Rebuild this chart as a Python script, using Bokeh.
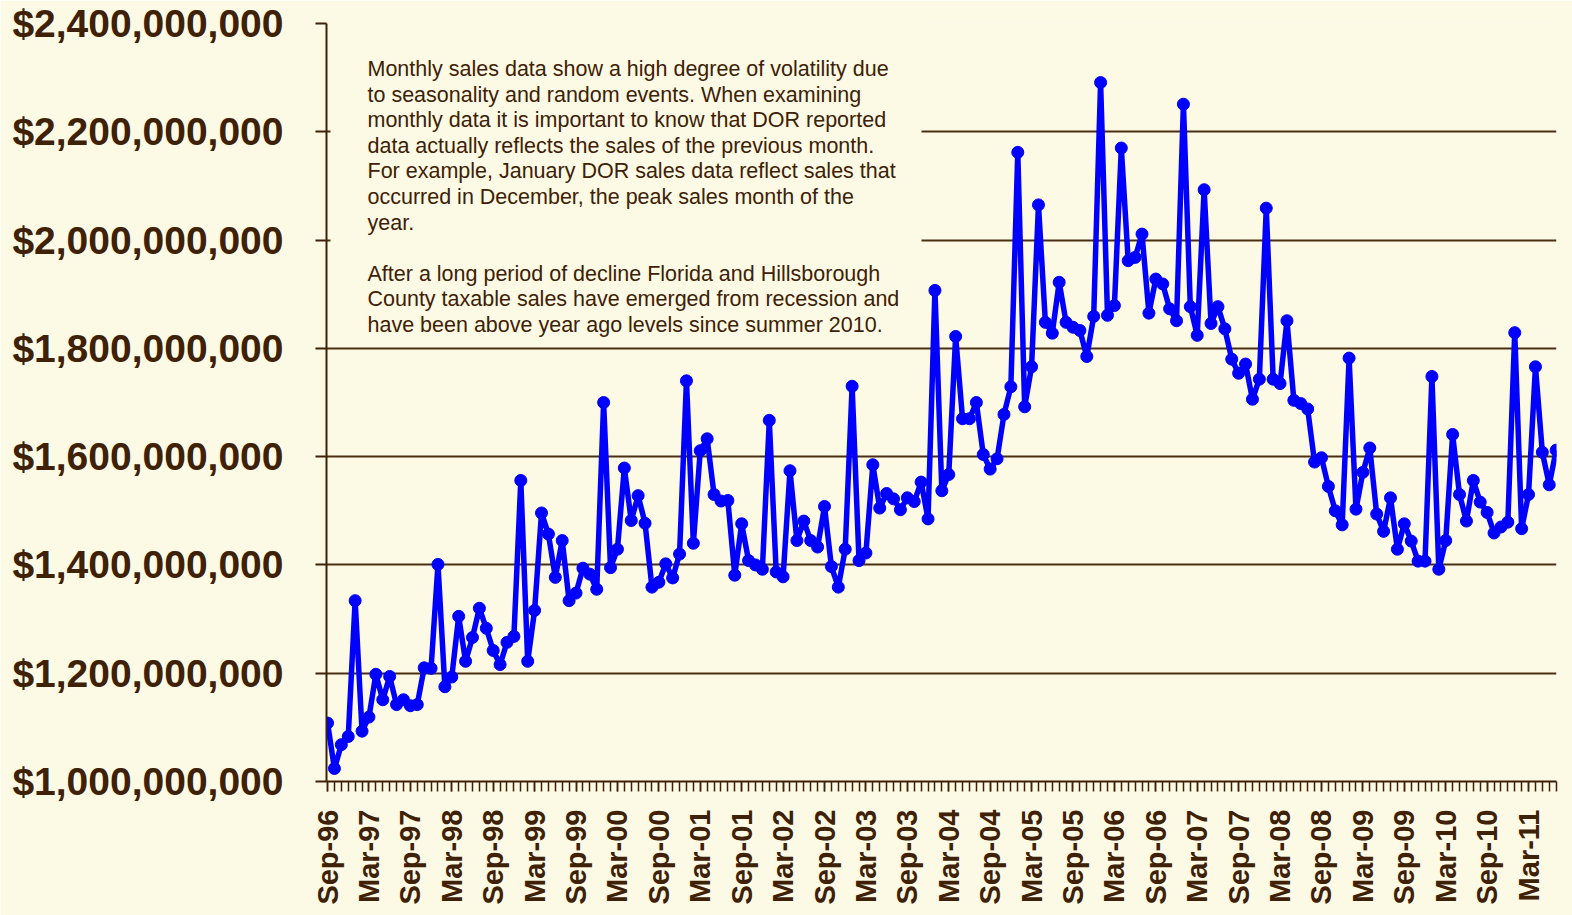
import math
from bokeh.plotting import figure
from bokeh.models import Range1d, FixedTicker, NumeralTickFormatter, BoxAnnotation, Label
from bokeh.embed import file_html
from bokeh.resources import INLINE

# ---------------- data (monthly taxable sales, millions of $) ----------------
sales_musd = [
    1108, 1024, 1068, 1083, 1334, 1093, 1119, 1198, 1151, 1194, 1142, 1151,
    1140, 1142, 1210, 1209, 1401, 1175, 1193, 1305, 1222, 1266, 1320, 1283,
    1242, 1216, 1257, 1268, 1556, 1222, 1316, 1496, 1457, 1377, 1445, 1334,
    1348, 1394, 1383, 1355, 1700, 1395, 1429, 1579, 1482, 1528, 1477, 1359,
    1368, 1402, 1376, 1420, 1740, 1440, 1611, 1633, 1530, 1518, 1519, 1381,
    1476, 1408, 1400, 1392, 1667, 1387, 1378, 1574, 1445, 1481, 1445, 1433,
    1508, 1397, 1359, 1429, 1730, 1408, 1422, 1585, 1505, 1532, 1522, 1502,
    1524, 1517, 1553, 1485, 1907, 1537, 1567, 1822, 1670, 1670, 1700, 1604,
    1577, 1596, 1678, 1729, 2162, 1692, 1766, 2065, 1848, 1828, 1922, 1848,
    1839, 1833, 1785, 1859, 2291, 1861, 1879, 2170, 1962, 1968, 2011, 1865,
    1928, 1919, 1873, 1851, 2251, 1877, 1824, 2093, 1846, 1877, 1836, 1780,
    1754, 1771, 1706, 1743, 2059, 1743, 1735, 1851, 1704, 1698, 1688, 1590,
    1598, 1545, 1500, 1474, 1782, 1503, 1571, 1616, 1494, 1462, 1524, 1429,
    1476, 1444, 1407, 1407, 1748, 1392, 1445, 1641, 1530, 1481, 1556, 1516,
    1497, 1459, 1470, 1479, 1829, 1467, 1530, 1766, 1608, 1548, 1612,
]

x_tick_labels = [
    "Sep-96", "Mar-97", "Sep-97", "Mar-98", "Sep-98", "Mar-99", "Sep-99",
    "Mar-00", "Sep-00", "Mar-01", "Sep-01", "Mar-02", "Sep-02", "Mar-03",
    "Sep-03", "Mar-04", "Sep-04", "Mar-05", "Sep-05", "Mar-06", "Sep-06",
    "Mar-07", "Sep-07", "Mar-08", "Sep-08", "Mar-09", "Sep-09", "Mar-10",
    "Sep-10", "Mar-11",
]
label_every_months = 6

y_ticks_usd = [1.0e9, 1.2e9, 1.4e9, 1.6e9, 1.8e9, 2.0e9, 2.2e9, 2.4e9]

note_lines = [
    "Monthly sales data show a high degree of volatility due",
    "to seasonality and random events.  When examining",
    "monthly data it is important to know that DOR reported",
    "data actually reflects the sales of the previous month.",
    "For example, January DOR sales data reflect sales that",
    "occurred in December, the peak sales month of the",
    "year.",
    "",
    "After a long period of decline Florida and Hillsborough",
    "County taxable sales have emerged from recession and",
    "have been above year ago levels since summer 2010.",
]

# ---------------- styling / layout ----------------
BG = "#FCFAE4"
INK = "#3E2106"
GRID = "#4A2E12"
BLUE = "#0000FF"
FONT = "Liberation Sans"

W, H = 1572, 915
BL, BR, BT, BB = 326, 16, 23, 134

values = [v * 1e6 for v in sales_musd]
idx = list(range(len(values)))

x0, x1 = -0.15, len(values) - 1 + 0.05
y0, y1 = y_ticks_usd[0], y_ticks_usd[-1]

# page pixel -> data helpers for annotation placement
FL, FR = BL, W - BR
FT, FB = BT, H - BB


def px2x(px):
    return x0 + (px - FL) / (FR - FL) * (x1 - x0)


def px2y(py):
    return y1 - (py - FT) / (FB - FT) * (y1 - y0)


p = figure(
    width=W, height=H, output_backend="svg", toolbar_location=None,
    x_range=Range1d(x0, x1), y_range=Range1d(y0, y1),
    min_border_left=BL, min_border_right=BR, min_border_top=BT, min_border_bottom=BB,
    background_fill_color=BG, border_fill_color=BG, outline_line_color=None,
)

# grid
p.xgrid.grid_line_color = None
p.ygrid.ticker = FixedTicker(ticks=y_ticks_usd)
p.ygrid.grid_line_color = GRID
p.ygrid.grid_line_width = 2

# y axis
ya = p.yaxis[0]
ya.ticker = FixedTicker(ticks=y_ticks_usd)
ya.formatter = NumeralTickFormatter(format="$0,0")
ya.major_label_text_font = FONT
ya.major_label_text_font_style = "bold"
ya.major_label_text_font_size = "39px"
ya.major_label_text_color = INK
ya.major_tick_out = 11
ya.major_tick_in = 0
ya.minor_tick_out = 0
ya.minor_tick_in = 0
ya.major_tick_line_color = INK
ya.major_tick_line_width = 2
ya.axis_line_color = INK
ya.axis_line_width = 2
ya.major_label_standoff = 32

# x axis
xa = p.xaxis[0]
major_pos = [i * label_every_months for i in range(len(x_tick_labels))]
xa.ticker = FixedTicker(ticks=major_pos, minor_ticks=idx)
xa.major_label_overrides = {pos: lab for pos, lab in zip(major_pos, x_tick_labels)}
xa.major_label_orientation = math.pi / 2
xa.major_label_text_font = FONT
xa.major_label_text_font_style = "bold"
xa.major_label_text_font_size = "29px"
xa.major_label_text_color = INK
xa.major_label_standoff = 18
xa.major_tick_out = 10
xa.major_tick_in = 0
xa.minor_tick_out = 10
xa.minor_tick_in = 0
xa.major_tick_line_color = INK
xa.minor_tick_line_color = INK
xa.major_tick_line_width = 1.5
xa.minor_tick_line_width = 1.5
xa.axis_line_color = INK
xa.axis_line_width = 2

# series
p.line(idx, values, line_color=BLUE, line_width=5.5)
p.scatter(idx, values, size=12, fill_color=BLUE, line_color=BLUE)

# text box (covers grid lines behind the note)
p.add_layout(BoxAnnotation(left=px2x(330), right=px2x(921), bottom=px2y(341), top=px2y(12),
                           fill_color=BG, fill_alpha=1.0, line_color=None))

base0, spacing = 68.5, 25.6
for i, line in enumerate(note_lines):
    if not line:
        continue
    p.add_layout(Label(x=px2x(367), y=px2y(base0 + i * spacing), text=line,
                       text_font=FONT, text_font_size="21.5px", text_color=INK,
                       text_align="left", text_baseline="alphabetic"))

html = file_html(p, INLINE)
html = html.replace("<body>", '<body style="background-color:%s;">' % BG, 1)
open("out.html", "w").write(html)
